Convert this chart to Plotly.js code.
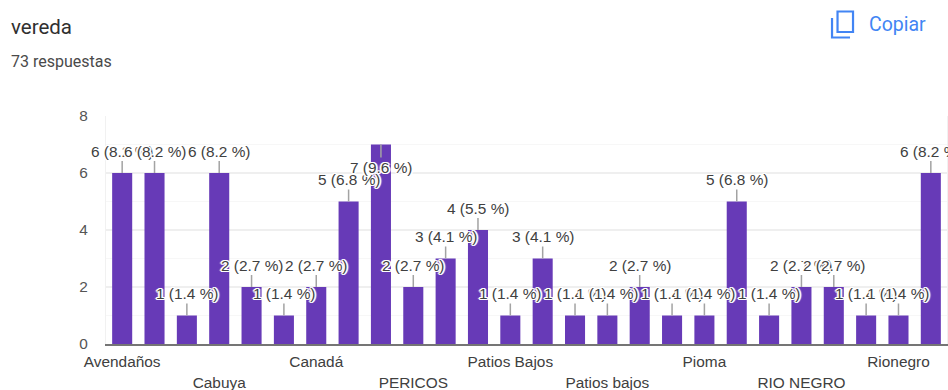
<!DOCTYPE html>
<html>
<head>
<meta charset="utf-8">
<script src="https://cdn.plot.ly/plotly-3.0.1.min.js"></script>
<style>html,body{margin:0;padding:0;background:#fff;overflow:hidden}</style>
</head>
<body>
<div id="chart" style="width:948px;height:390px"></div>
<script>
// Respuestas por vereda; only every third bar carries a visible axis label.
const categories = ["Avendaños","","","Cabuya","","","Canadá","","","PERICOS","","","Patios Bajos","","","Patios bajos","","","Pioma","","","RIO NEGRO","","","Rionegro",""];
const counts = [6,6,1,6,2,1,2,5,7,2,3,4,1,3,1,1,2,1,1,5,1,2,2,1,1,6];
const percents = [8.2,8.2,1.4,8.2,2.7,1.4,2.7,6.8,9.6,2.7,4.1,5.5,1.4,4.1,1.4,1.4,2.7,1.4,1.4,6.8,1.4,2.7,2.7,1.4,1.4,8.2];
const yTicks = [0,2,4,6,8];

const positions = categories.map((_, i) => i);
const labelled = positions.filter(i => categories[i] !== "");
// Names alternate between two rows under the axis.
const tickText = labelled.map((i, n) => (n % 2 ? "<br>" : "") + categories[i]);

const W = 948, H = 390;
const plotLeft = 105.8, plotRight = 947, plotTop = 116, plotBottom = 344;
const halo = "1px 0 0 #fff, -1px 0 0 #fff, 0 1px 0 #fff, 0 -1px 0 #fff, 1px 1px 0 #fff, -1px -1px 0 #fff, 1px -1px 0 #fff, -1px 1px 0 #fff, 2px 0 1px #fff, -2px 0 1px #fff";

// Value callouts with a leader line; the tallest bar has its callout inside the bar.
const callouts = positions.map(i => ({
  x: i, y: counts[i], xref: "x", yref: "y",
  text: counts[i] + " (" + percents[i].toFixed(1) + " %)",
  showarrow: true, arrowhead: 0, arrowwidth: 1.5, arrowcolor: "#a3a3a3",
  ax: 0, ay: counts[i] === 7 ? 23 : -22, standoff: 0,
  font: {family: "Liberation Sans, Arial, sans-serif", size: 15.4, color: "#404040", shadow: halo}
}));

const header = [
  {text: "vereda", x: 9, y: 27, size: 20.5, color: "#303030"},
  {text: "73 respuestas", x: 9, y: 62, size: 16, color: "#4a4a4a"},
  {text: "Copiar", x: 867, y: 24, size: 19.5, color: "#4285f4"}
].map(t => ({
  text: t.text, xref: "paper", yref: "paper", showarrow: false,
  x: (t.x - plotLeft) / (plotRight - plotLeft),
  y: (plotBottom - t.y) / (plotBottom - plotTop),
  xanchor: "left", yanchor: "middle",
  font: {family: "Roboto, sans-serif", size: t.size, color: t.color}
}));

// Copy icon built from two outlines in paper coordinates.
const px = v => (v - plotLeft) / (plotRight - plotLeft);
const py = v => (plotBottom - v) / (plotBottom - plotTop);
const iconShapes = [
  {type: "rect", xref: "paper", yref: "paper", x0: px(837.5), x1: px(853), y0: py(11.5), y1: py(32),
   line: {color: "#4285f4", width: 2.2}, fillcolor: "rgba(0,0,0,0)"},
  {type: "path", xref: "paper", yref: "paper",
   path: "M " + px(832) + " " + py(18) + " L " + px(832) + " " + py(37.5) + " L " + px(850) + " " + py(37.5),
   line: {color: "#4285f4", width: 2.2}}
];

Plotly.newPlot("chart", [{
  type: "bar",
  x: positions,
  y: counts,
  marker: {color: "#673ab7", line: {width: 0}},
  hoverinfo: "skip"
}], {
  width: W, height: H,
  margin: {l: plotLeft, r: W - plotRight, t: plotTop, b: H - plotBottom, pad: 0},
  paper_bgcolor: "#ffffff", plot_bgcolor: "#ffffff",
  bargap: 0.38,
  showlegend: false,
  xaxis: {
    range: [-0.5, 25.5], tickmode: "array", tickvals: labelled, ticktext: tickText,
    showgrid: false, zeroline: false, showline: true, linecolor: "#757575", linewidth: 2,
    ticks: "", ticklabelstandoff: 3, tickangle: 0,
    tickfont: {family: "Liberation Sans, Arial, sans-serif", size: 15.4, color: "#404040"}
  },
  yaxis: {
    range: [0, 8], tickmode: "array", tickvals: yTicks,
    showgrid: true, gridcolor: "#efefef", gridwidth: 1.5,
    minor: {dtick: 1, showgrid: true, gridcolor: "#f7f7f7", gridwidth: 1, ticks: ""},
    zeroline: false,
    showline: true, linecolor: "#f1f1f1", linewidth: 1, mirror: true,
    ticks: "", ticklabelstandoff: 14,
    tickfont: {family: "Liberation Sans, Arial, sans-serif", size: 15.4, color: "#555555"}
  },
  annotations: callouts.concat(header),
  shapes: iconShapes
}, {displayModeBar: false, staticPlot: true});
</script>
</body>
</html>
